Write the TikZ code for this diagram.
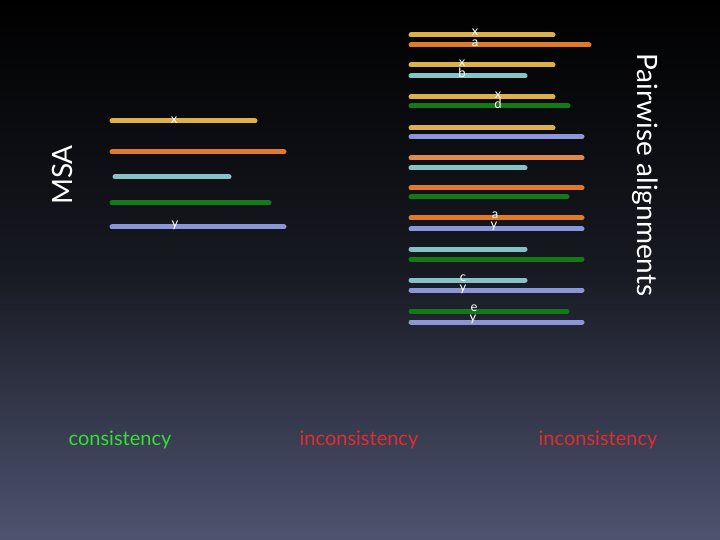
\documentclass[tikz,border=0pt]{standalone}
\usepackage{fontspec}
\setmainfont{Lato}
\begin{document}
\begin{tikzpicture}[x=1pt,y=-1pt,
  bar/.style={line width=5pt,line cap=round},
  lbl/.style={text=white,font=\fontsize{13}{13}\selectfont,inner sep=0pt},
  big/.style={text=white,font=\fontsize{28}{28}\selectfont,inner sep=0pt},
  bot/.style={font=\fontsize{20}{20}\selectfont,inner sep=0pt}]
\definecolor{cgold}{HTML}{DDB048}
\definecolor{corange}{HTML}{E07A28}
\definecolor{corange2}{HTML}{E08A48}
\definecolor{cteal}{HTML}{86C3C6}
\definecolor{cgreen}{HTML}{137A1A}
\definecolor{cblue}{HTML}{8A96D8}
\definecolor{bgtop}{HTML}{000000}
\definecolor{bgbot}{HTML}{4E5470}
\shade[top color=bgtop,bottom color=bgbot,middle color=bgtop!70!bgbot] (0,0) rectangle (720,540);
\useasboundingbox (0,0) rectangle (720,540);
% left MSA
\foreach \n/\a/\b/\y/\c in {l1/112/255/121/cgold,l2/112/284/152/corange,l3/115/229/177/cteal,l4/112/269/203/cgreen,l5/112/284/227/cblue}{
  \coordinate (\n s) at (\a,\y); \coordinate (\n e) at (\b,\y);
  \draw[bar,\c] (\n s) -- (\n e);}
\node[lbl] (lx) at (174,120) {x};
\node[lbl] (ly) at (175,225) {y};
% right pairwise
\foreach \n/\b/\y/\c in {r1/553/35/cgold,r2/589/45/corange,r3/553/65/cgold,r4/525/76/cteal,r5/553/97/cgold,r6/568/106/cgreen,r7/553/128/cgold,r8/582/137/cblue,r9/582/158/corange2,r10/525/168/cteal,r11/582/188/corange,r12/567/197/cgreen,r13/582/218/corange,r14/582/229/cblue,r15/525/249/cteal,r16/582/259/cgreen,r17/525/280/cteal,r18/582/290/cblue,r19/567/311/cgreen,r20/582/322/cblue}{
  \coordinate (\n s) at (411,\y); \coordinate (\n e) at (\b,\y);
  \draw[bar,\c] (\n s) -- (\n e);}
\node[lbl] (t1) at (475,32) {x};
\node[lbl] (t2) at (475,43) {a};
\node[lbl] (t3) at (462,63) {x};
\node[lbl] (t4) at (462,73) {b};
\node[lbl] (t5) at (498,95) {x};
\node[lbl] (t6) at (498,104) {d};
\node[lbl] (t7) at (495,215) {a};
\node[lbl] (t8) at (494,226) {y};
\node[lbl] (t9) at (463,278) {c};
\node[lbl] (t10) at (463,289) {y};
\node[lbl] (t11) at (474,308) {e};
\node[lbl] (t12) at (473,319) {y};
\node[big,rotate=90] (msa) at (62,175) {MSA};
\node[big,rotate=-90] (pw) at (645,175) {Pairwise alignments};
\node[bot,text={rgb,255:red,50;green,225;blue,50}] (c1) at (120,440) {consistency};
\node[bot,text={rgb,255:red,225;green,45;blue,45}] (c2) at (359,440) {inconsistency};
\node[bot,text={rgb,255:red,225;green,45;blue,45}] (c3) at (598,440) {inconsistency};
\end{tikzpicture}
\end{document}
